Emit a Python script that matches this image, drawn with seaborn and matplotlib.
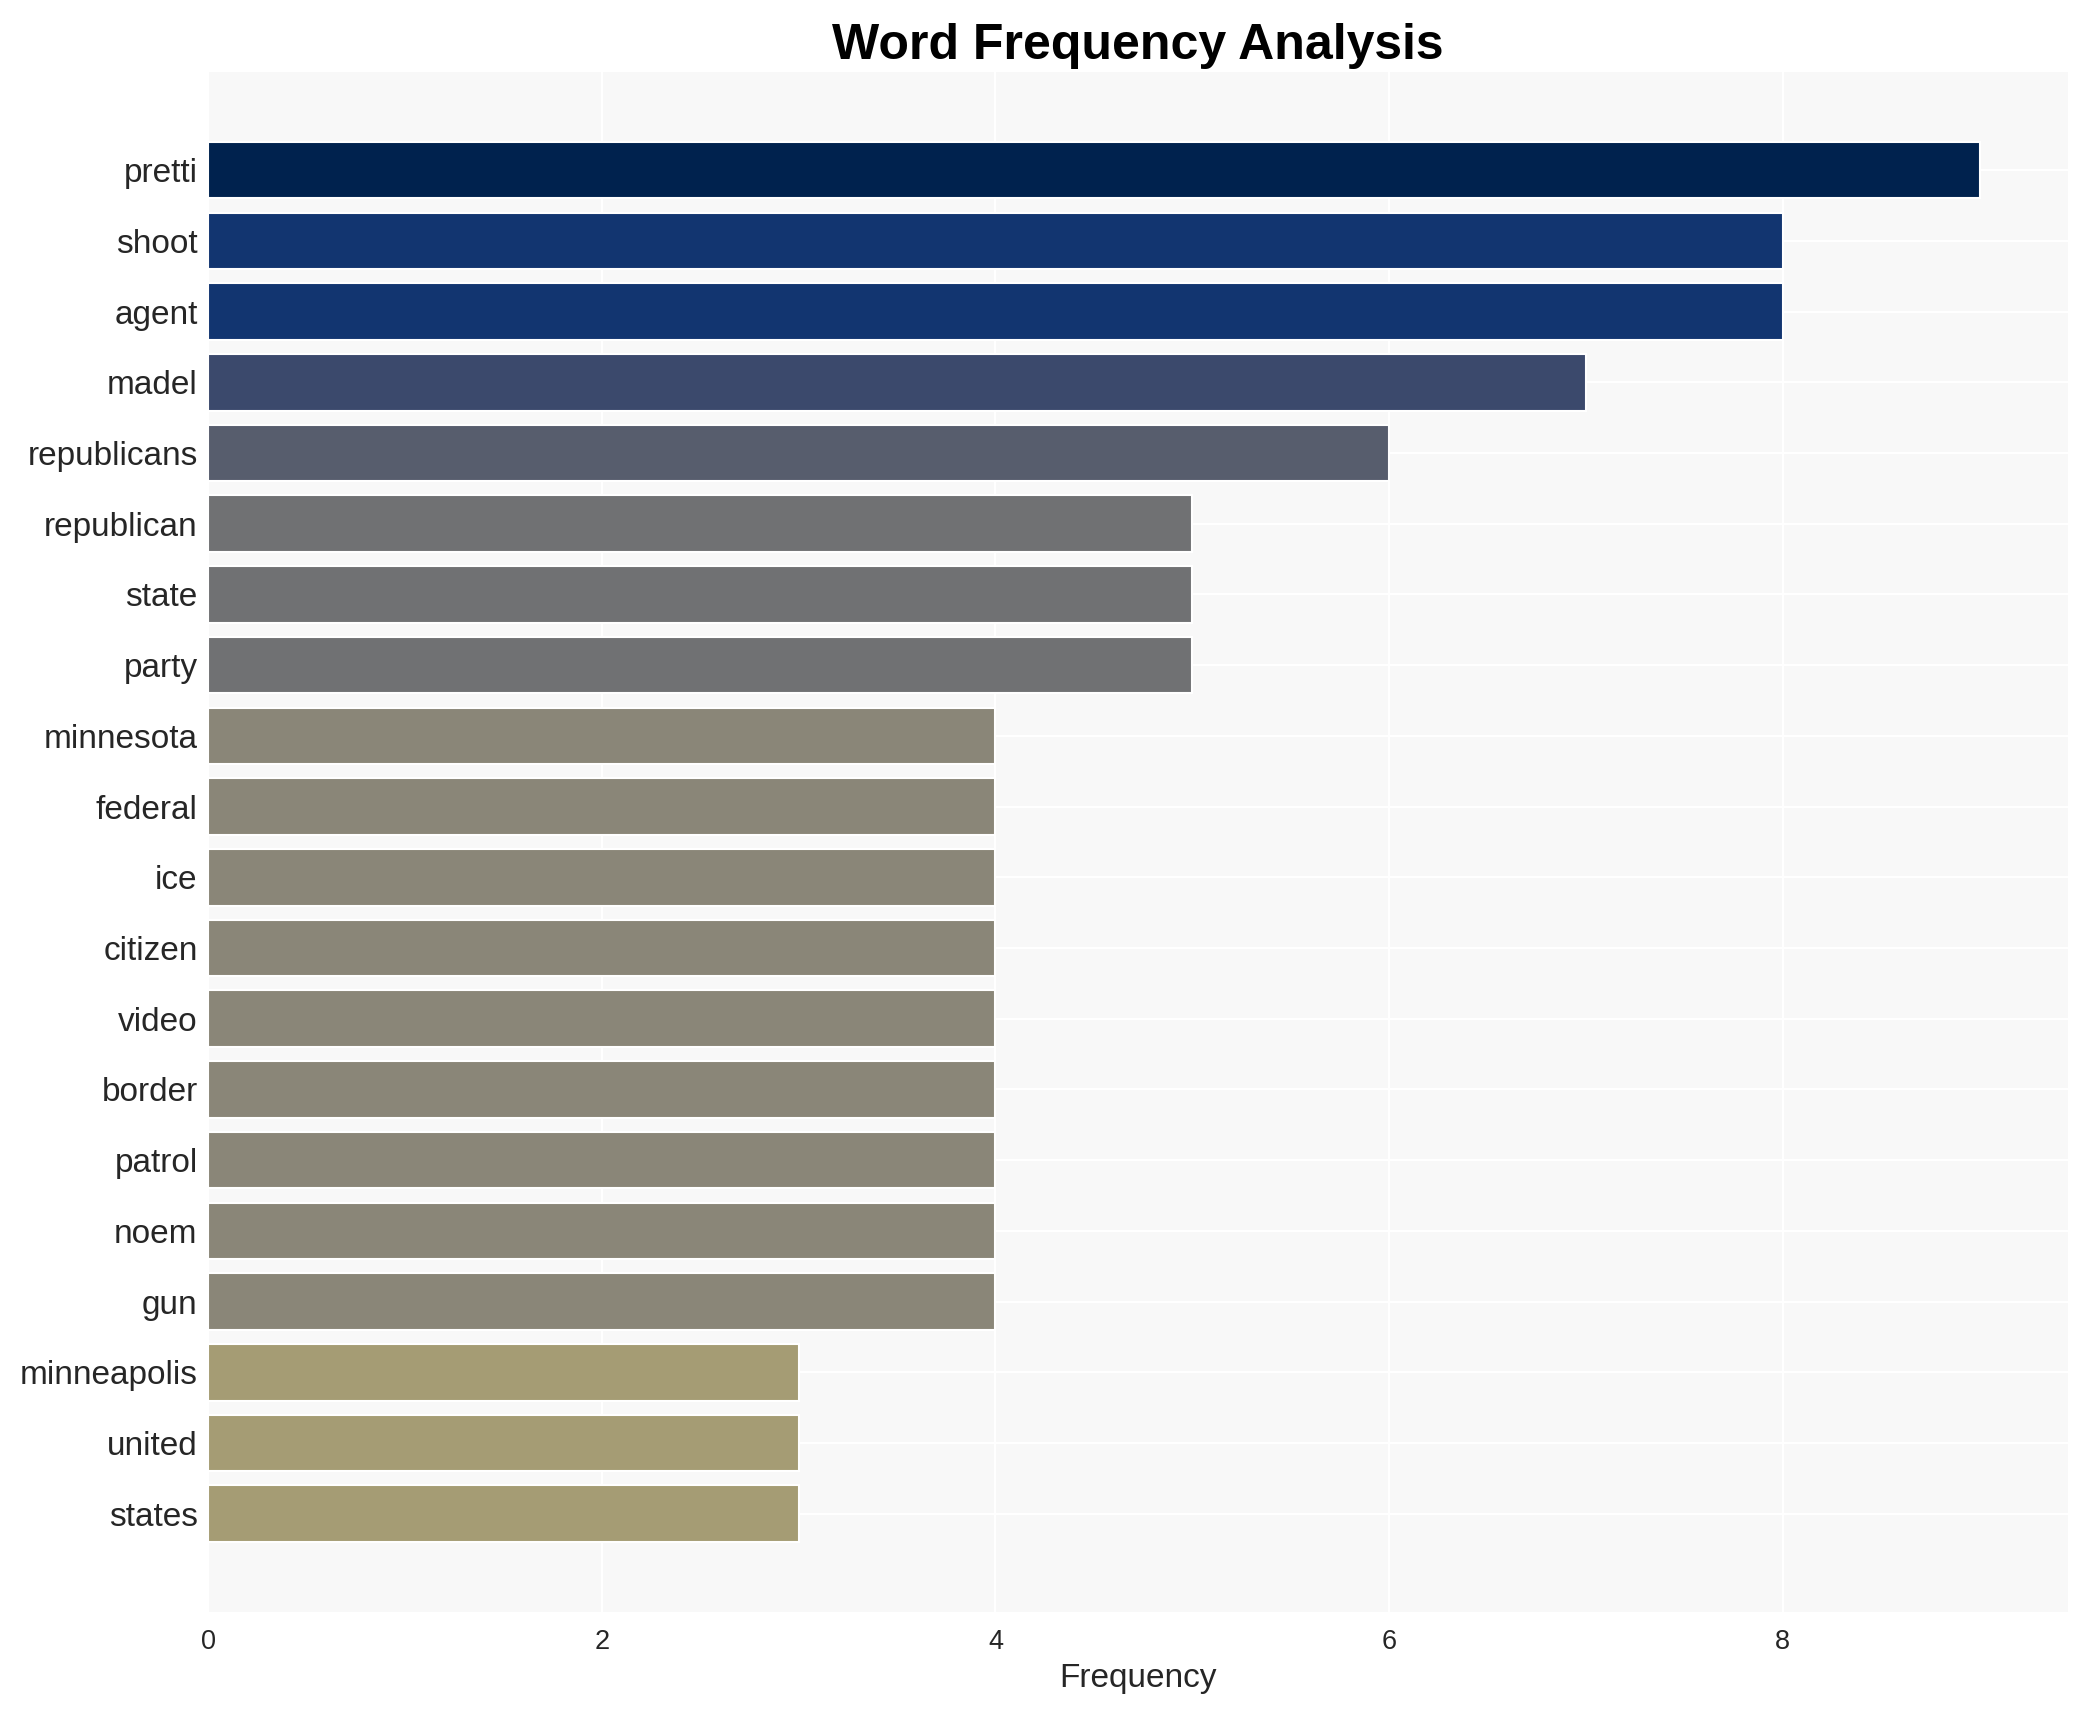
import numpy as np
import pandas as pd
import matplotlib
matplotlib.use("Agg")
import matplotlib.pyplot as plt
import seaborn as sns

words = ['pretti', 'shoot', 'agent', 'madel', 'republicans', 'republican',
         'state', 'party', 'minnesota', 'federal', 'ice', 'citizen', 'video',
         'border', 'patrol', 'noem', 'gun', 'minneapolis', 'united', 'states']
counts = [9, 8, 8, 7, 6, 5, 5, 5, 4, 4, 4, 4, 4, 4, 4, 4, 4, 3, 3, 3]

df = pd.DataFrame({'word': words, 'count': counts})

sns.set_style("whitegrid", {'axes.facecolor': '#f8f8f8', 'grid.color': 'white'})
plt.rcParams['font.family'] = ['Liberation Sans', 'DejaVu Sans']

# darker colour for higher counts
cmap = plt.cm.cividis_r
colors = [cmap(c / max(counts)) for c in counts]

fig, ax = plt.subplots(figsize=(2087 / 150, 1710 / 150), dpi=150)
sns.barplot(data=df, x='count', y='word', hue='word', palette=colors,
            legend=False, ax=ax, width=0.8, saturation=1)

n = len(words)
ax.set_ylim(n - 0.6 + 0.99, -0.4 - 0.99)
ax.set_xlim(0, max(counts) * 1.05)

ax.set_title('Word Frequency Analysis', fontsize=24, fontweight='bold', color='black')
ax.set_xlabel('Frequency', fontsize=16)
ax.set_ylabel('')
ax.tick_params(axis='y', labelsize=16, length=0, pad=5)
ax.tick_params(axis='x', labelsize=13, length=0, pad=8)
ax.set_xticks([0, 2, 4, 6, 8])
for s in ax.spines.values():
    s.set_visible(False)
ax.grid(True, color='white', linewidth=1)
ax.set_axisbelow(True)

fig.subplots_adjust(left=0.0997, right=0.991, top=0.958, bottom=0.0573)
fig.savefig('out.png', dpi=150)
